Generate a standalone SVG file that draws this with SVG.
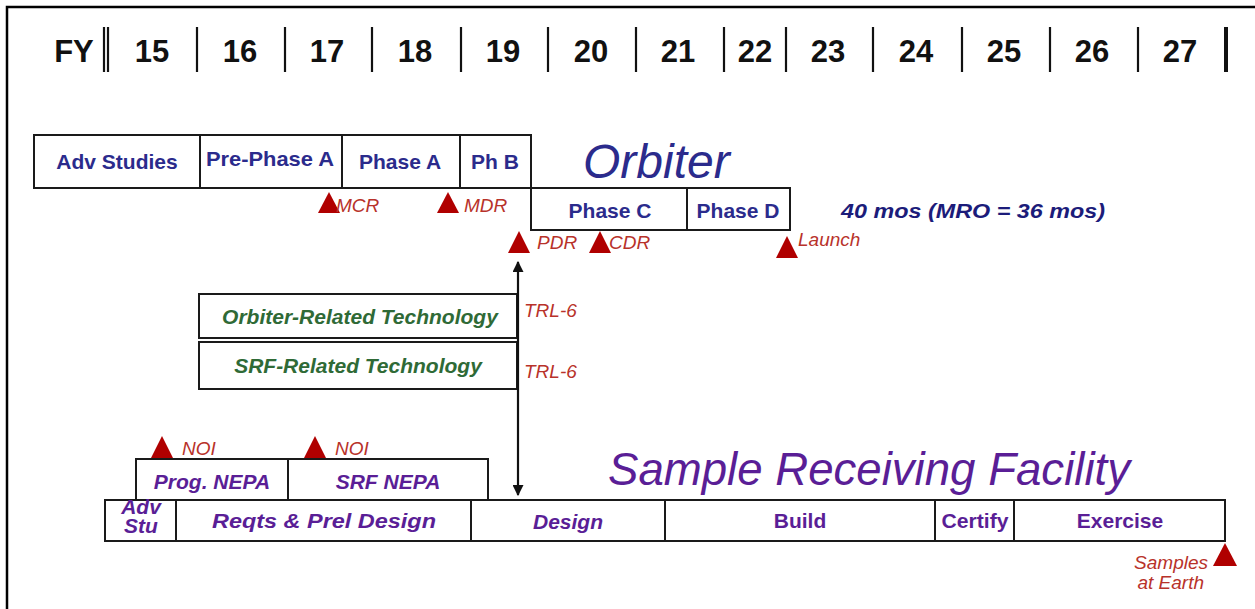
<svg xmlns="http://www.w3.org/2000/svg" width="1255" height="609" viewBox="0 0 1255 609">
<style>
.box{fill:#fff;stroke:#1a1a1a;stroke-width:2}
.hdr{font-family:"Liberation Sans",Arial,sans-serif;font-weight:bold;font-size:31px;fill:#111;text-anchor:middle}
.sep{stroke:#111;stroke-width:2.2}
.orb{font-family:"Liberation Sans",Arial,sans-serif;font-weight:bold;font-size:21px;fill:#2b2b8c;text-anchor:middle}
.tech{font-family:"Liberation Sans",Arial,sans-serif;font-weight:bold;font-style:italic;font-size:21px;fill:#2f6a36;text-anchor:middle}
.srf{font-family:"Liberation Sans",Arial,sans-serif;font-weight:bold;font-style:italic;font-size:21px;fill:#5a1e96;text-anchor:middle}
.srfu{font-family:"Liberation Sans",Arial,sans-serif;font-weight:bold;font-size:21px;fill:#5a1e96;text-anchor:middle}
.ms{font-family:"Liberation Sans",Arial,sans-serif;font-style:italic;font-size:19px;fill:#b8322a}
.tri{fill:#b00000}
</style>
<defs>
<marker id="ah" viewBox="0 0 10 10" refX="9" refY="5" markerWidth="5" markerHeight="5" orient="auto-start-reverse">
<path d="M0,0 L10,5 L0,10 z" fill="#111"/>
</marker>
</defs>
<rect width="1255" height="609" fill="#fff"/>
<g id="frame">
<path d="M7,609 V7 H1255" fill="none" stroke="#000" stroke-width="2.5"/>
</g>
<g id="header">
<text class="hdr" x="74" y="62">FY</text>
<line class="sep" x1="104" y1="27" x2="104" y2="72"/>
<line class="sep" x1="108" y1="27" x2="108" y2="72"/>
<text class="hdr" x="152" y="62">15</text>
<line class="sep" x1="197" y1="27" x2="197" y2="72"/>
<text class="hdr" x="240" y="62">16</text>
<line class="sep" x1="285" y1="27" x2="285" y2="72"/>
<text class="hdr" x="327" y="62">17</text>
<line class="sep" x1="372" y1="27" x2="372" y2="72"/>
<text class="hdr" x="415" y="62">18</text>
<line class="sep" x1="461" y1="27" x2="461" y2="72"/>
<text class="hdr" x="503" y="62">19</text>
<line class="sep" x1="548" y1="27" x2="548" y2="72"/>
<text class="hdr" x="591" y="62">20</text>
<line class="sep" x1="636" y1="27" x2="636" y2="72"/>
<text class="hdr" x="678" y="62">21</text>
<line class="sep" x1="724" y1="27" x2="724" y2="72"/>
<text class="hdr" x="755" y="62">22</text>
<line class="sep" x1="786" y1="27" x2="786" y2="72"/>
<text class="hdr" x="828" y="62">23</text>
<line class="sep" x1="873" y1="27" x2="873" y2="72"/>
<text class="hdr" x="916" y="62">24</text>
<line class="sep" x1="962" y1="27" x2="962" y2="72"/>
<text class="hdr" x="1004" y="62">25</text>
<line class="sep" x1="1050" y1="27" x2="1050" y2="72"/>
<text class="hdr" x="1092" y="62">26</text>
<line class="sep" x1="1138" y1="27" x2="1138" y2="72"/>
<text class="hdr" x="1180" y="62">27</text>
<line x1="1226" y1="27" x2="1226" y2="72" stroke="#111" stroke-width="4"/>
</g>
<g id="orbiter">
<rect class="box" x="34" y="135" width="166" height="53"/>
<text class="orb" x="117" y="169">Adv Studies</text>
<rect class="box" x="200" y="135" width="142" height="53"/>
<text class="orb" x="270" y="166" textLength="128" lengthAdjust="spacingAndGlyphs">Pre-Phase A</text>
<rect class="box" x="342" y="135" width="118" height="53"/>
<text class="orb" x="400" y="169">Phase A</text>
<rect class="box" x="460" y="135" width="71" height="53"/>
<text class="orb" x="495" y="169">Ph B</text>
<rect class="box" x="531" y="188" width="156" height="42"/>
<text class="orb" x="610" y="218">Phase C</text>
<rect class="box" x="687" y="188" width="103" height="42"/>
<text class="orb" x="738" y="218">Phase D</text>
<text x="583" y="178" font-family="Liberation Sans,Arial,sans-serif" font-style="italic" font-size="48" fill="#2b2b8c">Orbiter</text>
<text x="841" y="218" font-family="Liberation Sans,Arial,sans-serif" font-weight="bold" font-style="italic" font-size="21" fill="#1c1c7a" textLength="264" lengthAdjust="spacingAndGlyphs">40 mos (MRO = 36 mos)</text>
</g>
<g id="milestones">
<polygon class="tri" points="329,192 318,213 340,213"/>
<text class="ms" x="336" y="212">MCR</text>
<polygon class="tri" points="448,192 437,213 459,213"/>
<text class="ms" x="464" y="212">MDR</text>
<polygon class="tri" points="519,231 508,253 530,253"/>
<text class="ms" x="537" y="249">PDR</text>
<polygon class="tri" points="600,231 589,253 611,253"/>
<text class="ms" x="609" y="249">CDR</text>
<polygon class="tri" points="787,236 776,258 798,258"/>
<text class="ms" x="798" y="246">Launch</text>
</g>
<g id="technology">
<rect class="box" x="199" y="294" width="318" height="44"/>
<text class="tech" x="360" y="324">Orbiter-Related Technology</text>
<rect class="box" x="199" y="342" width="318" height="47"/>
<text class="tech" x="358" y="373">SRF-Related Technology</text>
<text class="ms" x="524" y="317">TRL-6</text>
<text class="ms" x="524" y="378">TRL-6</text>
</g>
<g id="connectors">
<line x1="518" y1="262" x2="518" y2="495" stroke="#111" stroke-width="2.2" marker-start="url(#ah)" marker-end="url(#ah)"/>
</g>
<g id="srf">
<polygon class="tri" points="162,436 151,458 173,458"/>
<text class="ms" x="182" y="455" font-size="17">NOI</text>
<polygon class="tri" points="315,436 304,458 326,458"/>
<text class="ms" x="335" y="455" font-size="17">NOI</text>
<rect class="box" x="136" y="459" width="152" height="41"/>
<text class="srf" x="212" y="489">Prog. NEPA</text>
<rect class="box" x="288" y="459" width="200" height="41"/>
<text class="srf" x="388" y="489">SRF NEPA</text>
<text x="608" y="485" font-family="Liberation Sans,Arial,sans-serif" font-style="italic" font-size="46" fill="#5a1e96" textLength="522" lengthAdjust="spacingAndGlyphs">Sample Receiving Facility</text>
<rect class="box" x="105" y="500" width="71" height="41"/>
<text class="srf" x="141" y="514" font-size="14">Adv</text>
<text class="srf" x="141" y="533" font-size="14">Stu</text>
<rect class="box" x="176" y="500" width="295" height="41"/>
<text class="srf" x="324" y="528" font-size="24" textLength="224" lengthAdjust="spacingAndGlyphs">Reqts &amp; Prel Design</text>
<rect class="box" x="471" y="500" width="194" height="41"/>
<text class="srf" x="568" y="529">Design</text>
<rect class="box" x="665" y="500" width="270" height="41"/>
<text class="srfu" x="800" y="528">Build</text>
<rect class="box" x="935" y="500" width="79" height="41"/>
<text class="srfu" x="975" y="528" textLength="67" lengthAdjust="spacingAndGlyphs">Certify</text>
<rect class="box" x="1014" y="500" width="211" height="41"/>
<text class="srfu" x="1120" y="528">Exercise</text>
<polygon class="tri" points="1225,543 1213,566 1237,566"/>
<text class="ms" x="1208" y="569" text-anchor="end" font-size="17">Samples</text>
<text class="ms" x="1204" y="589" text-anchor="end" font-size="17">at Earth</text>
</g>
</svg>
